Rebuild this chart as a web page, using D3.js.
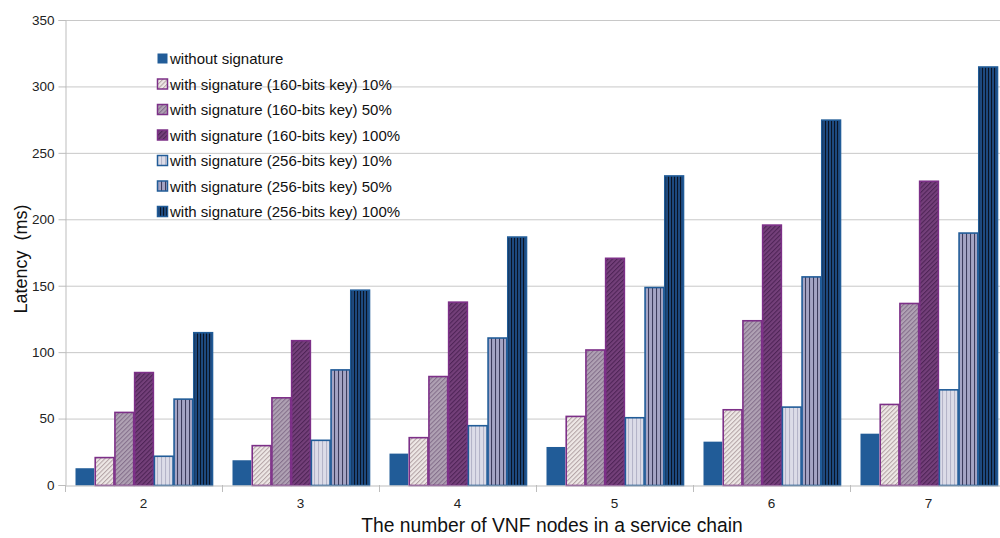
<!DOCTYPE html>
<html>
<head>
<meta charset="utf-8">
<script src="https://cdn.jsdelivr.net/npm/d3@7"></script>
<style>
  html, body { margin: 0; padding: 0; background: #fff; }
  svg { display: block; font-family: "Liberation Sans", Arial, sans-serif; }
</style>
</head>
<body>
<svg id="chart" width="1000" height="538"></svg>
<script>
const categories = ["2", "3", "4", "5", "6", "7"];
const seriesNames = [
  "without signature",
  "with signature (160-bits key) 10%",
  "with signature (160-bits key) 50%",
  "with signature (160-bits key) 100%",
  "with signature (256-bits key) 10%",
  "with signature (256-bits key) 50%",
  "with signature (256-bits key) 100%"
];
const withoutSignature = [13, 19, 24, 29, 33, 39];
const sig160_10  = [21, 30, 36, 52, 57, 61];
const sig160_50  = [55, 66, 82, 102, 124, 137];
const sig160_100 = [85, 109, 138, 171, 196, 229];
const sig256_10  = [22, 34, 45, 51, 59, 72];
const sig256_50  = [65, 87, 111, 149, 157, 190];
const sig256_100 = [115, 147, 187, 233, 275, 315];
const yTicks = [0, 50, 100, 150, 200, 250, 300, 350];

const seriesValues = [withoutSignature, sig160_10, sig160_50, sig160_100, sig256_10, sig256_50, sig256_100];

const styles = [
  { fill: "#215c98", stroke: "#215c98", pat: null },
  { fill: "#ece6e4", stroke: "#7d3088", pat: { type: "diag", bg: "#eee8e6", line: "#b4a4a6", gap: 3.2 } },
  { fill: "#a898ac", stroke: "#7d3088", pat: { type: "diag", bg: "#b0a2b4", line: "#85708c", gap: 3.2 } },
  { fill: "#6e3a74", stroke: "#7d3088", pat: { type: "diag", bg: "#74407a", line: "#4e2456", gap: 3.2 } },
  { fill: "#d8d8e6", stroke: "#215c98", pat: { type: "vert", bg: "#dcdce8", line: "#b4b4c8", gap: 4 } },
  { fill: "#9c9cbc", stroke: "#215c98", pat: { type: "vert", bg: "#a4a4c4", line: "#3c3c5c", gap: 4 } },
  { fill: "#1c4274", stroke: "#215c98", pat: { type: "vert", bg: "#1e4a80", line: "#0a1424", gap: 3 } }
];

const svg = d3.select("#chart");
const margin = { left: 65, top: 20, right: -7, bottom: 53 };
const W = 1000, H = 538;
const x0 = margin.left, x1 = W - margin.right;
const yTop = margin.top, yBot = H - margin.bottom;

const defs = svg.append("defs");
styles.forEach((s, i) => {
  if (!s.pat) return;
  const p = s.pat;
  const pat = defs.append("pattern")
    .attr("id", "pat" + i)
    .attr("patternUnits", "userSpaceOnUse")
    .attr("width", p.gap).attr("height", p.gap);
  if (p.type === "diag") pat.attr("patternTransform", "rotate(45)");
  pat.append("rect").attr("width", p.gap).attr("height", p.gap).attr("fill", p.bg);
  pat.append("line")
    .attr("x1", 0.5).attr("y1", 0).attr("x2", 0.5).attr("y2", p.gap)
    .attr("stroke", p.line).attr("stroke-width", 1.1);
});

const x = d3.scaleBand().domain(categories).range([x0, x1]).paddingInner(0).paddingOuter(0);
const xs = d3.scaleBand().domain(d3.range(seriesNames.length))
  .range([10, x.bandwidth() - 9]).padding(0);
const y = d3.scaleLinear().domain([0, 350]).range([yBot, yTop]);

// gridlines
svg.append("g").selectAll("line").data(yTicks.slice(1)).join("line")
  .attr("x1", x0).attr("x2", x1)
  .attr("y1", d => y(d) + 0.5).attr("y2", d => y(d) + 0.5)
  .attr("stroke", "#c8c8c8").attr("stroke-width", 1);

// y axis
const yAxis = svg.append("g").attr("transform", `translate(${x0 + 0.5},0)`)
  .call(d3.axisLeft(y).tickValues(yTicks).tickSize(7).tickPadding(4));
yAxis.select(".domain").attr("stroke", "#bdbdbd");
yAxis.selectAll(".tick line").attr("stroke", "#bdbdbd");
yAxis.selectAll(".tick text").attr("font-size", 13.5).attr("fill", "#222")
  .attr("font-family", "Liberation Sans, Arial, sans-serif");

// bars
const groups = svg.append("g").selectAll("g").data(categories).join("g")
  .attr("transform", d => `translate(${x(d)},0)`);
groups.selectAll("rect").data((c, ci) => seriesValues.map((vals, si) => ({ si, v: vals[ci] })))
  .join("rect")
  .attr("x", d => xs(d.si) + 0.5)
  .attr("width", xs.bandwidth() - 1)
  .attr("y", d => y(d.v) + 0.5)
  .attr("height", d => y(0) - y(d.v))
  .attr("fill", d => styles[d.si].pat ? `url(#pat${d.si})` : styles[d.si].fill)
  .attr("stroke", d => styles[d.si].stroke)
  .attr("stroke-width", d => d.si === 0 ? 0 : 1.6);

// x axis
const xAxis = svg.append("g").attr("transform", `translate(0,${yBot + 0.5})`)
  .call(d3.axisBottom(x).tickSize(0).tickPadding(13));
xAxis.select(".domain").attr("stroke", "#bdbdbd");
xAxis.selectAll(".tick text").attr("font-size", 13.5).attr("fill", "#222")
  .attr("font-family", "Liberation Sans, Arial, sans-serif");
// boundary ticks
svg.append("g").selectAll("line").data(categories).join("line")
  .attr("x1", d => x(d) + 0.5).attr("x2", d => x(d) + 0.5)
  .attr("y1", yBot).attr("y2", yBot + 7)
  .attr("stroke", "#bdbdbd");

// legend
const legend = svg.append("g").attr("transform", "translate(157,59)");
const li = legend.selectAll("g").data(seriesNames).join("g")
  .attr("transform", (d, i) => `translate(0,${i * 25.5})`);
li.append("rect")
  .attr("x", 0.5).attr("y", -5.5).attr("width", 10).attr("height", 10)
  .attr("fill", (d, i) => styles[i].pat ? `url(#pat${i})` : styles[i].fill)
  .attr("stroke", (d, i) => styles[i].stroke)
  .attr("stroke-width", (d, i) => i === 0 ? 0 : 1.5);
li.append("text")
  .attr("x", 13).attr("y", 0).attr("dy", "0.35em")
  .attr("font-size", 15).attr("fill", "#111")
  .text(d => d);

// axis titles
svg.append("text")
  .attr("transform", "translate(27,259) rotate(-90)")
  .attr("text-anchor", "middle")
  .attr("font-size", 18).attr("fill", "#111")
  .attr("xml:space", "preserve")
  .style("white-space", "pre")
  .text("Latency  (ms)");
svg.append("text")
  .attr("x", 552).attr("y", 532)
  .attr("text-anchor", "middle")
  .attr("font-size", 19.3).attr("fill", "#111")
  .text("The number of VNF nodes in a service chain");
</script>
</body>
</html>
